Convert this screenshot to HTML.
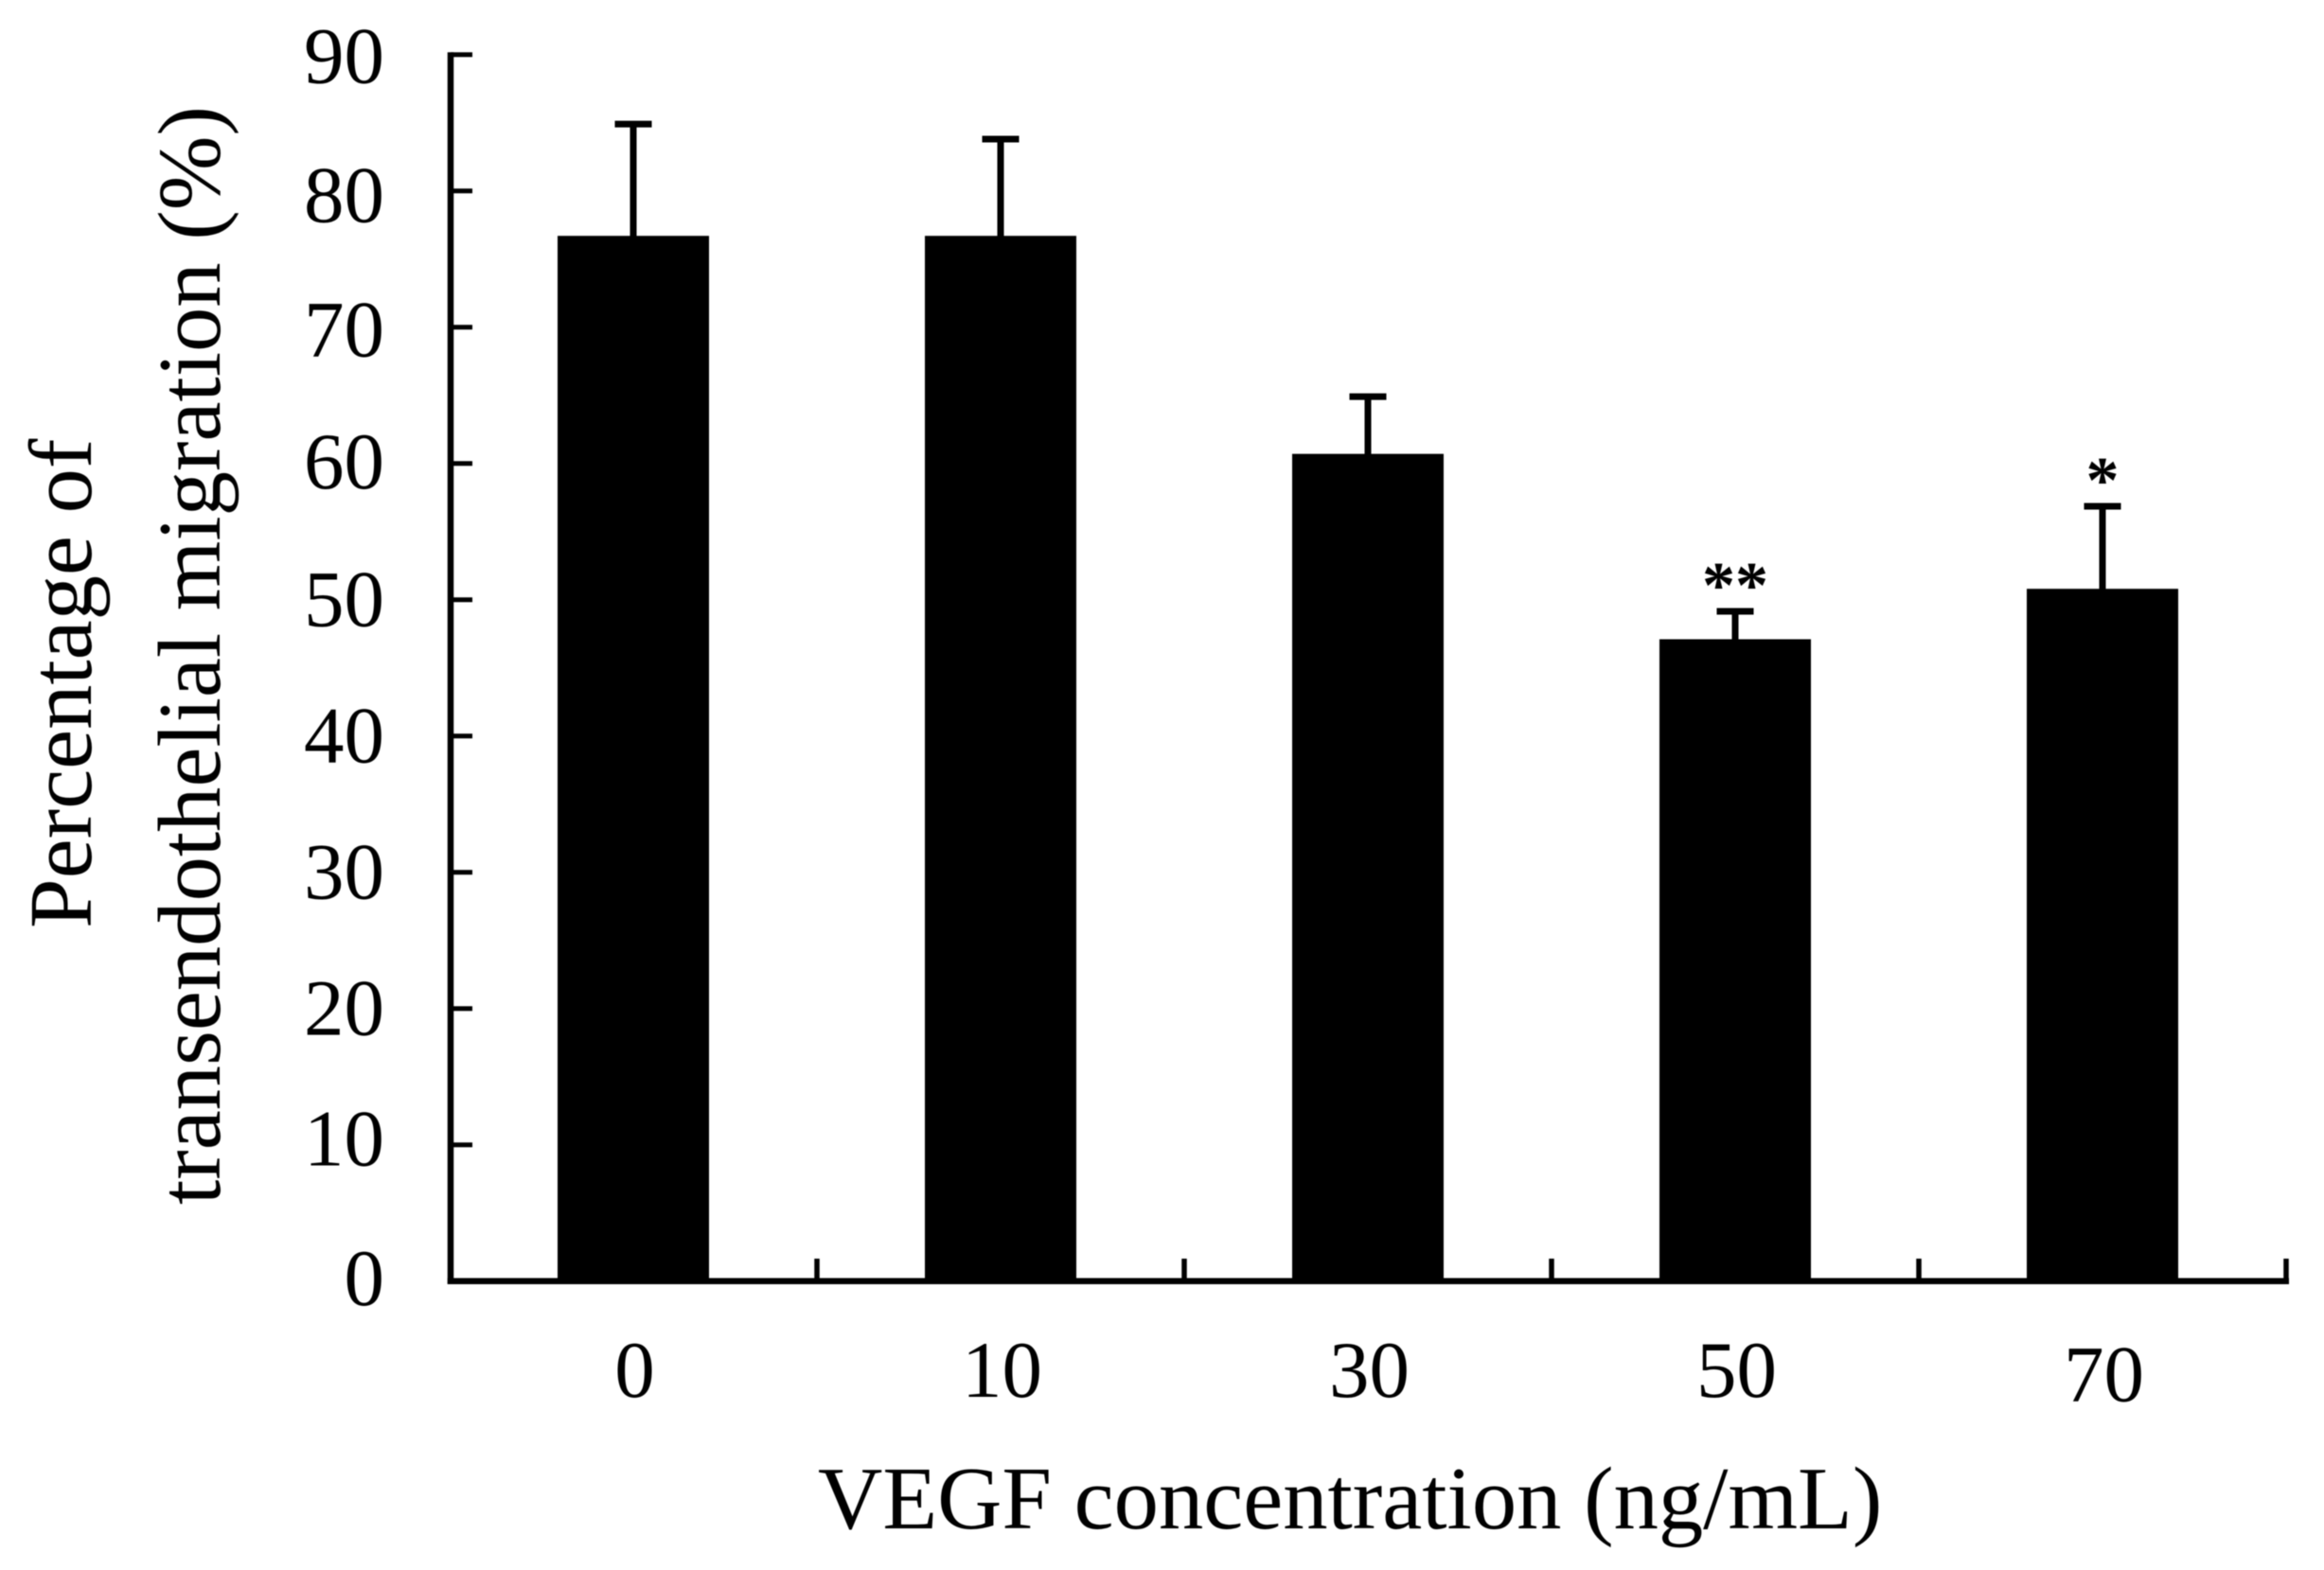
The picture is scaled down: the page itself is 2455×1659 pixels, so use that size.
<!DOCTYPE html>
<html lang="en">
<head>
<meta charset="utf-8">
<title>Percentage of transendothelial migration vs VEGF concentration</title>
<style>
html,body{margin:0;padding:0;background:#fff;}
body{width:2455px;height:1659px;overflow:hidden;}
svg{display:block;filter:blur(0.6px);}
text{font-family:"Liberation Serif","Times New Roman",serif;fill:#000;}
</style>
</head>
<body>
<svg id="chart" xmlns="http://www.w3.org/2000/svg" width="2455" height="1659" viewBox="0 0 2455 1659">
  <rect x="0" y="0" width="2455" height="1659" fill="#fff"/>
  <g id="marks"></g>
  <g id="errors"></g>
  <g id="axes"></g>
  <g id="labels"></g>
  <text font-size="94.6" transform="translate(96 981) rotate(-90)">Percentage of</text>
  <text font-size="94.6" transform="translate(232 1273) rotate(-90)">transendothelial migration (%)</text>
  <text font-size="94.6" x="864" y="1615">VEGF concentration (ng/mL)</text>
</svg>
<script>
const categories = ['0', '10', '30', '50', '70'];
const means = [76.7, 76.7, 60.7, 47.1, 50.8];
const upperErrors = [8.2, 7.1, 4.2, 2.05, 6.05];
const significance = ['', '', '', '**', '*'];
const yTicks = [0, 10, 20, 30, 40, 50, 60, 70, 80, 90];

const NS = 'http://www.w3.org/2000/svg';
const plotLeft = 476, plotRight = 2416, plotBottom = 1353.7, plotTop = 57.7;
const yMax = 90;
const step = (plotRight - plotLeft) / categories.length;
const barWidth = 160;
const xBand = function (i) { return plotLeft + step * i - 1; };
const xCenter = function (i) { return plotLeft + step * (i + 0.5) - 1; };
const yScale = function (v) { return plotBottom - (v / yMax) * (plotBottom - plotTop); };

function yLabelNudge(t) {
  switch (t) {
    case 90: return 2;
    case 80: return 5;
    case 70: return 3;
    case 60: return -1.5;
    case 10: return -6;
    case 0: return -2.5;
    default: return 0;
  }
}

function make(tag, attrs, parent, content) {
  const el = document.createElementNS(NS, tag);
  Object.keys(attrs).forEach(function (k) { el.setAttribute(k, attrs[k]); });
  if (content !== undefined) el.textContent = content;
  parent.appendChild(el);
  return el;
}

const marks = document.getElementById('marks');
const errors = document.getElementById('errors');
const axes = document.getElementById('axes');
const labels = document.getElementById('labels');

categories.forEach(function (cat, i) {
  const cx = xCenter(i);
  const top = yScale(means[i]);
  const bar = make('rect', { x: cx - barWidth / 2, y: top, width: barWidth, height: plotBottom + 3 - top, fill: '#000' }, marks);
  
  

  const errTop = yScale(means[i] + upperErrors[i]);
  const stem = make('line', { x1: cx, x2: cx, y1: top + 2, y2: errTop, stroke: '#000', 'stroke-width': 7 }, errors);
  
  
  const cap = make('line', { x1: cx - 19.5, x2: cx + 19.5, y1: errTop, y2: errTop, stroke: '#000', 'stroke-width': 7 }, errors);
  
  

  const xLabel = make('text', { x: cx + 1.5, y: i === 4 ? 1480.5 : 1476, 'font-size': 85, 'text-anchor': 'middle' }, labels, cat);
  
  

  if (significance[i]) {
    const star = make('text', { x: cx, y: errTop - 4, 'font-size': 70, 'font-weight': 'bold', 'text-anchor': 'middle' }, labels, significance[i]);
    
    
  }

  const xTick = make('line', { x1: xBand(i + 1), x2: xBand(i + 1), y1: 1330, y2: plotBottom, stroke: '#000', 'stroke-width': 5.5 }, axes);
  
  
});

const yAxis = make('line', { x1: plotLeft, x2: plotLeft, y1: plotTop - 2.5, y2: plotBottom + 3.2, stroke: '#000', 'stroke-width': 6.5 }, axes);


const xAxis = make('line', { x1: plotLeft - 3.2, x2: plotRight + 2, y1: plotBottom, y2: plotBottom, stroke: '#000', 'stroke-width': 6.5 }, axes);



yTicks.forEach(function (t) {
  const y = yScale(t);
  if (t !== 0) {
    const tick = make('line', { x1: plotLeft, x2: 499, y1: y, y2: y, stroke: '#000', 'stroke-width': 5 }, axes);
    
    
  }
  const label = make('text', { x: 406, y: y + 28 + yLabelNudge(t), 'font-size': 85, 'text-anchor': 'end' }, labels, String(t));
  
  
});
</script>
</body>
</html>
